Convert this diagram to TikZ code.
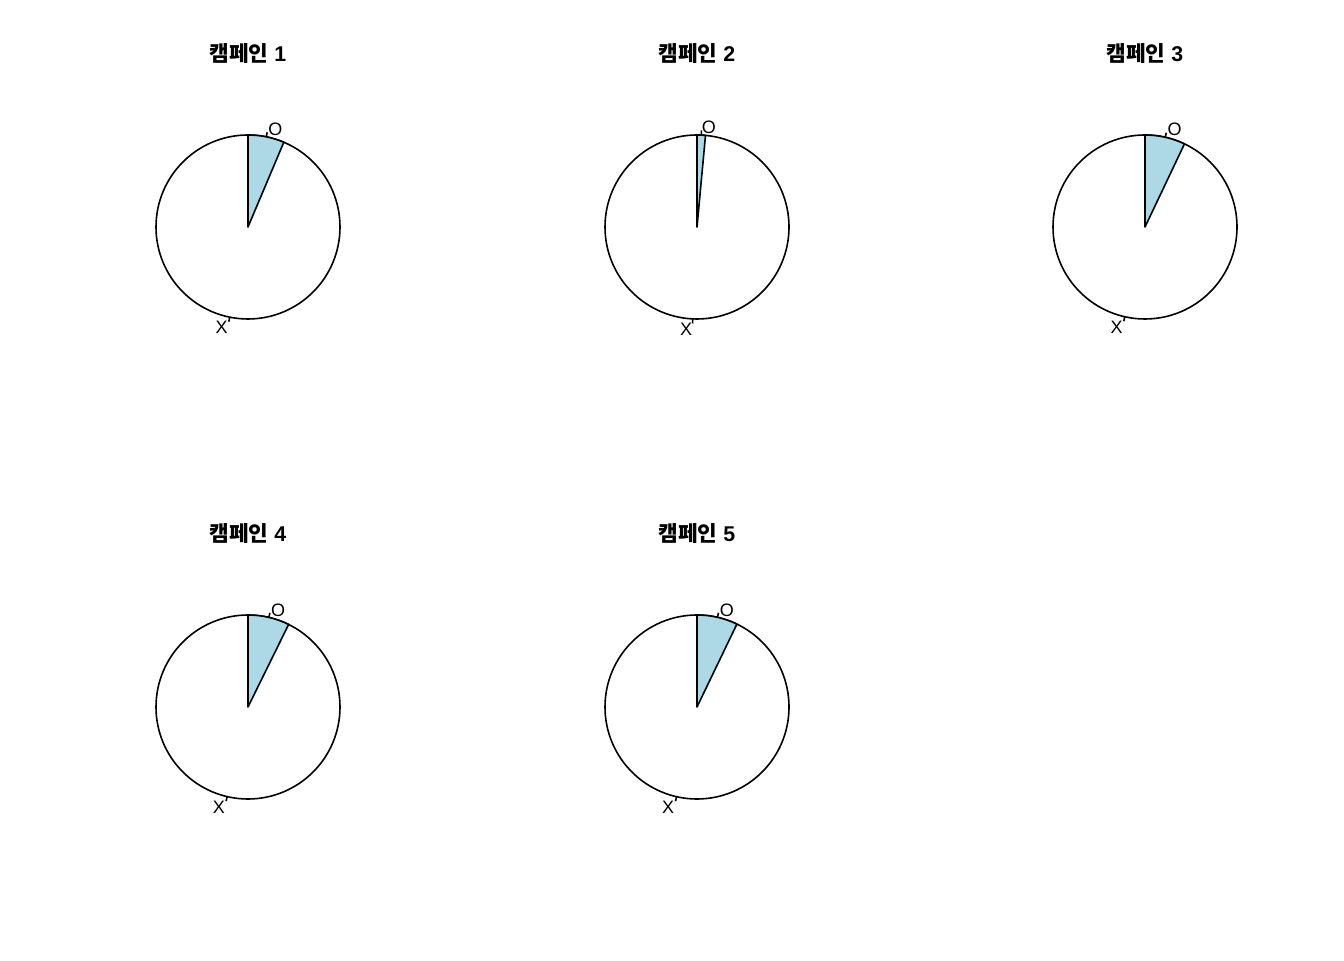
\documentclass[tikz,border=0pt]{standalone}
\usepackage{fontspec}
\setmainfont{Liberation Sans}
\newfontfamily\krfont{Noto Sans CJK KR}
\usepackage{tikz}
\usetikzlibrary{calc}
\definecolor{SliceBlue}{HTML}{ADD8E6}
\newcommand{\NameCamp}{{\krfont 캠페인}}
\newcommand{\PieR}{69pt}
% one pie: #1 name, #2 x, #3 y, #4 angle of the O slice, #5 number
\newcommand{\CampPie}[5]{%
  \coordinate (#1) at (#2,#3);
  \node[anchor=base, style=titlefont] (#1t) at ($(#1)+(0,165)$) {\NameCamp\ #5};
  \filldraw [style=pieline, fill=white] (#1) circle (\PieR);
  \filldraw [style=pieline, fill=SliceBlue] (#1) -- ++(90:92) arc[start angle=90, end angle={90-#4}, radius=\PieR] -- cycle;
  \coordinate (#1oa) at ($(#1)+({90-#4/2}:92)$);
  \coordinate (#1ob) at ($(#1)+({90-#4/2}:96.6)$);
  \coordinate (#1xa) at ($(#1)+({-90-#4/2}:92)$);
  \coordinate (#1xb) at ($(#1)+({-90-#4/2}:96.6)$);
  \draw [style=pieline] (#1oa) -- (#1ob);
  \draw [style=pieline] (#1xa) -- (#1xb);
  \node[anchor=west, style=labelfont] (#1o) at ($(#1)+({90-#4/2}:101.2)+(0,-1.5)$) {O};
  \node[anchor=east, style=labelfont] (#1x) at ($(#1)+({-90-#4/2}:101.2)+(0,-1.5)$) {X};
}

\begin{document}
\begin{tikzpicture}[x=0.75pt,y=0.75pt,
    pieline/.style={line width=1.2pt, black, line join=round},
    titlefont/.style={inner sep=0pt, font=\bfseries\fontsize{16}{19}\selectfont},
    labelfont/.style={inner sep=0pt, font=\fontsize{13.5}{16}\selectfont}]

      \useasboundingbox (0,0) rectangle (1344,960);

      \CampPie{pa}{248}{733}{22.9}{1}
      \CampPie{pb}{697}{733}{5.3}{2}
      \CampPie{pc}{1145}{733}{25.4}{3}
      \CampPie{pd}{248}{253}{26.2}{4}
      \CampPie{pe}{697}{253}{25.7}{5}
    \end{tikzpicture}
\end{document}
